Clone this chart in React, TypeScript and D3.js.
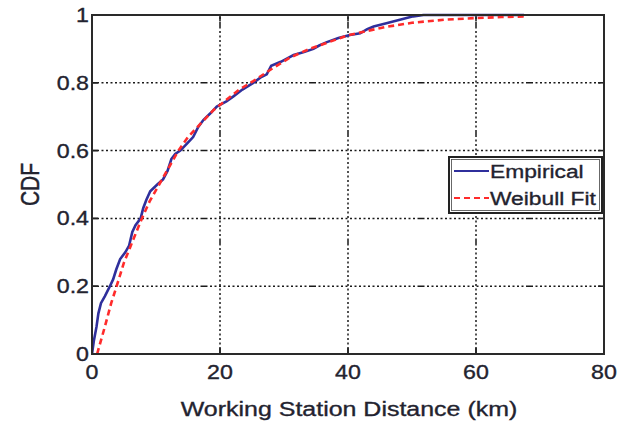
import React from "react";
import * as d3 from "d3";

// Empirical CDF of working station distance (km)
const empiricalX = [0, 0.3, 0.7, 1.0, 1.4, 2.0, 2.8, 3.3, 3.8, 4.4, 5.2, 5.8, 6.3, 6.8, 7.6, 8.0, 8.5, 9.1, 10.2, 11.1, 11.8, 12.4, 13.0, 13.8, 14.8, 15.8, 16.6, 17.4, 18.5, 19.5, 21.0, 22.1, 23.5, 25.2, 26.3, 27.3, 28.0, 29.5, 31.5, 33.0, 34.6, 35.5, 36.7, 38.5, 40.3, 41.9, 43.0, 44.0, 46.0, 48.1, 50.2, 51.8, 67.5];
const empiricalY = [0, 0.04, 0.08, 0.12, 0.15, 0.17, 0.2, 0.22, 0.25, 0.28, 0.3, 0.32, 0.36, 0.38, 0.4, 0.43, 0.455, 0.48, 0.5, 0.515, 0.54, 0.575, 0.59, 0.6, 0.62, 0.64, 0.67, 0.69, 0.71, 0.73, 0.745, 0.76, 0.78, 0.8, 0.815, 0.825, 0.85, 0.862, 0.882, 0.89, 0.9, 0.91, 0.92, 0.932, 0.941, 0.946, 0.958, 0.966, 0.976, 0.986, 0.996, 1.0, 1.0];

// Weibull fit curve
const weibullX = [0.8, 2, 3, 3.85, 5, 6.5, 7.8, 9, 10.5, 12, 13.5, 15, 17, 19, 21, 23, 25.2, 28, 31, 34, 37, 40, 43, 46, 50, 55, 60, 64, 68];
const weibullY = [0, 0.08, 0.15, 0.2, 0.27, 0.34, 0.4, 0.45, 0.5, 0.55, 0.6, 0.64, 0.68, 0.72, 0.75, 0.78, 0.805, 0.84, 0.875, 0.9, 0.92, 0.94, 0.953, 0.965, 0.977, 0.986, 0.991, 0.994, 0.996];

const xTicks = [0, 20, 40, 60, 80];
const yTicks = [0, 0.2, 0.4, 0.6, 0.8, 1];
const yTickLabels = ["0", "0.2", "0.4", "0.6", "0.8", "1"];

const seriesNames = ["Empirical", "Weibull Fit"];
const xTitle = "Working Station Distance (km)";
const yTitle = "CDF";

const W = 621;
const H = 425;
const left = 92;
const right = 604;
const top = 15;
const bottom = 354;

const font = "'Liberation Sans', Arial, Helvetica, sans-serif";
const textColor = "#23232f";
const blue = "#2f2f9c";
const red = "#ff2b2b";

// dotted grid with a longer dash every ~110px
const gridDash = (() => {
  const parts: number[] = [7, 2.5];
  for (let i = 0; i < 22; i++) parts.push(2, 2.5);
  return parts.join(",");
})();

export default function App() {
  const x = d3.scaleLinear().domain([0, 80]).range([left, right]);
  const y = d3.scaleLinear().domain([0, 1]).range([bottom, top]);

  const line = d3
    .line<[number, number]>()
    .x((d) => x(d[0]))
    .y((d) => y(d[1]));

  const emp: [number, number][] = empiricalX.map((v, i) => [v, empiricalY[i]]);
  const wei: [number, number][] = weibullX.map((v, i) => [v, weibullY[i]]);

  const sx = 1.16;
  const textStroke = { stroke: textColor, strokeWidth: 0.35 };

  return (
    <svg
      width={W}
      height={H}
      style={{ position: "absolute", left: 0, top: 0, background: "#fff" }}
    >
      <rect x={0} y={0} width={W} height={H} fill="#fff" />
      <defs>
        <clipPath id="plot">
          <rect x={left} y={top - 2} width={right - left} height={bottom - top + 2} />
        </clipPath>
      </defs>

      {/* grid */}
      <g stroke="#1a1a1a" strokeWidth={1.5} strokeDasharray={gridDash}>
        {xTicks.slice(1, -1).map((t) => (
          <line key={"gx" + t} x1={x(t)} x2={x(t)} y1={bottom} y2={top} />
        ))}
        {yTicks.slice(1, -1).map((t) => (
          <line key={"gy" + t} x1={left} x2={right} y1={y(t)} y2={y(t)} />
        ))}
      </g>

      {/* inner ticks on all four sides */}
      <g stroke="#222" strokeWidth={1.6}>
        {xTicks.map((t) => (
          <g key={"tx" + t}>
            <line x1={x(t)} x2={x(t)} y1={bottom} y2={bottom - 6} />
            <line x1={x(t)} x2={x(t)} y1={top} y2={top + 6} />
          </g>
        ))}
        {yTicks.map((t) => (
          <g key={"ty" + t}>
            <line x1={left} x2={left + 6} y1={y(t)} y2={y(t)} />
            <line x1={right} x2={right - 6} y1={y(t)} y2={y(t)} />
          </g>
        ))}
      </g>

      {/* curves */}
      <g clipPath="url(#plot)" fill="none">
        <path d={line(emp) || ""} stroke={blue} strokeWidth={2.6} />
        <path
          d={line(wei) || ""}
          stroke={red}
          strokeWidth={2.6}
          strokeDasharray="6,4"
        />
      </g>

      {/* frame */}
      <rect
        x={left}
        y={top}
        width={right - left}
        height={bottom - top}
        fill="none"
        stroke="#2a2a2a"
        strokeWidth={2}
      />

      {/* tick labels */}
      <g fill={textColor} fontFamily={font} fontSize={20} {...textStroke}>
        {xTicks.map((t) => (
          <text
            key={"lx" + t}
            transform={`translate(${x(t)},379) scale(${sx},1)`}
            textAnchor="middle"
          >
            {t}
          </text>
        ))}
        {yTicks.map((t, i) => (
          <text
            key={"ly" + t}
            transform={`translate(89,${y(t) + 7}) scale(${sx},1)`}
            textAnchor="end"
          >
            {yTickLabels[i]}
          </text>
        ))}
      </g>

      {/* axis titles */}
      <text
        transform={`translate(${(left + right) / 2 + 1},416) scale(1.2,1)`}
        textAnchor="middle"
        fontFamily={font}
        fontSize={20.8}
        fill={textColor}
        {...textStroke}
      >
        {xTitle}
      </text>
      <text
        transform={`translate(39,${(top + bottom) / 2}) scale(1.2,1) rotate(-90)`}
        textAnchor="middle"
        fontFamily={font}
        fontSize={21}
        fill={textColor}
        {...textStroke}
      >
        {yTitle}
      </text>

      {/* legend */}
      <g>
        <rect x={449} y={157} width={153} height={56} fill="#fff" stroke="#222" strokeWidth={2} />
        <rect x={451.5} y={159.5} width={148} height={51} fill="none" stroke="#444" strokeWidth={0.8} />
        <line x1={454} x2={489} y1={171} y2={171} stroke={blue} strokeWidth={2} />
        <line x1={454} x2={489} y1={198} y2={198} stroke={red} strokeWidth={2} strokeDasharray="6,4" />
        <g fill={textColor} fontFamily={font} fontSize={19} {...textStroke}>
          <text transform={`translate(490,178) scale(1.2,1)`}>{seriesNames[0]}</text>
          <text transform={`translate(490,205) scale(1.2,1)`}>{seriesNames[1]}</text>
        </g>
      </g>
    </svg>
  );
}
